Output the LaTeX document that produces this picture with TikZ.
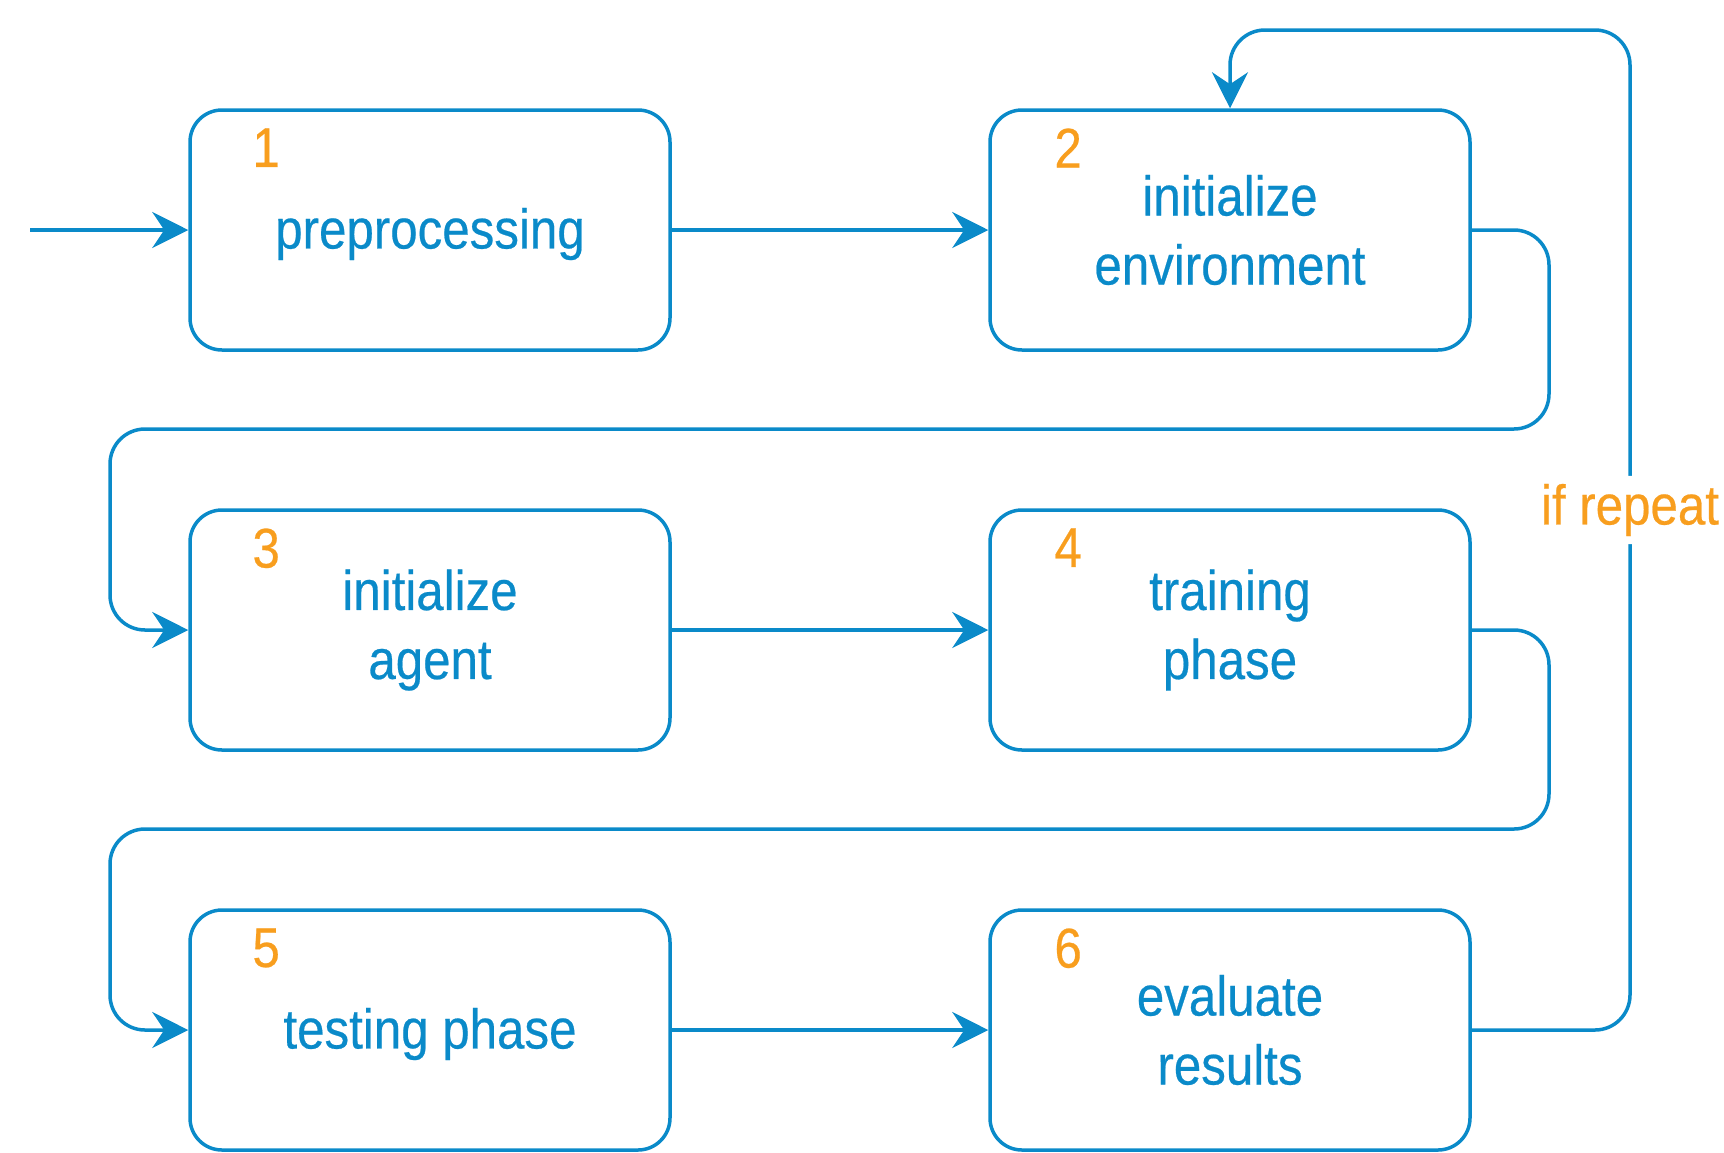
\documentclass[tikz,border=0pt]{standalone}
\usepackage{fontspec}
\setmainfont{Liberation Sans}[FakeStretch=0.88,FakeBold=0.4]
\usetikzlibrary{arrows.meta,positioning}
\definecolor{flowblue}{HTML}{0A8AC9}
\definecolor{floworange}{HTML}{F89E1E}

\begin{document}
\begin{tikzpicture}[x=1pt,y=-1pt,
  stepbox/.style={draw=flowblue, line width=3.5pt, rounded corners=32pt,
    minimum width=480pt, minimum height=240pt, inner sep=0pt,
    align=center, text=flowblue, font=\fontsize{56pt}{69pt}\selectfont},
  num/.style={text=floworange, inner sep=0pt, font=\fontsize{56pt}{69pt}\selectfont},
  looplabel/.style={fill=white, text=floworange, inner sep=8pt,
    font=\fontsize{56pt}{69pt}\selectfont},
  flow/.style={draw=flowblue, line width=3.5pt, rounded corners=35pt,
    -{Stealth[length=36pt,width=36pt,inset=12pt]}}]
\useasboundingbox (0,0) rectangle (1724,1152);
% steps
\node[stepbox] (b1) at (430,230) {\raisebox{-4pt}[\height][\depth]{preprocessing}};
\node[stepbox] (b2) at (1230,230) {initialize\\environment};
\node[stepbox] (b3) at (430,630) {initialize\\agent};
\node[stepbox] (b4) at (1230,630) {training\\phase};
\node[stepbox] (b5) at (430,1030) {\raisebox{-4pt}[\height][\depth]{testing phase}};
\node[stepbox] (b6) at (1230,1030) {evaluate\\results};
% step numbers
\node[num, below right=20pt and 64pt of b1.north west] (n1) {1};
\node[num, below right=20pt and 66pt of b2.north west] (n2) {2};
\node[num, below right=20pt and 64pt of b3.north west] (n3) {3};
\node[num, below right=20pt and 66pt of b4.north west] (n4) {4};
\node[num, below right=20pt and 64pt of b5.north west] (n5) {5};
\node[num, below right=20pt and 66pt of b6.north west] (n6) {6};
% connectors
\coordinate (start) at (30,230);
\draw[flow] (start) -- (b1.west);
\draw[flow] (b1.east) -- (b2.west);
\draw[flow] (b2.east) -- (1549,230) -- (1549,429) -- (110,429) -- (110,630) -- (b3.west);
\draw[flow] (b3.east) -- (b4.west);
\draw[flow] (b4.east) -- (1549,630) -- (1549,829) -- (110,829) -- (110,1030) -- (b5.west);
\draw[flow] (b5.east) -- (b6.west);
\draw[flow] (b6.east) -- (1630,1030) -- node[looplabel, pos=0.52] (rep) {if repeat} (1630,30) -- (1230,30) -- (b2.north);
\end{tikzpicture}
\end{document}
